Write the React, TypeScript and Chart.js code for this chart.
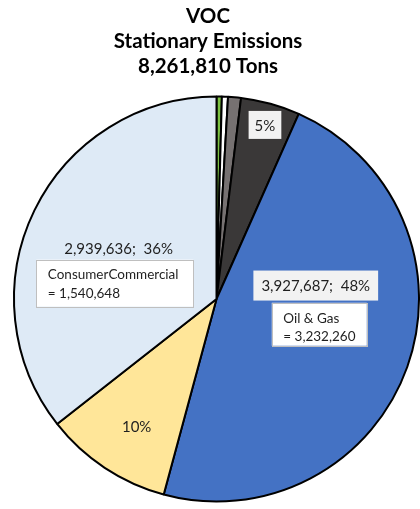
import React, { useEffect, useRef } from "react";
import { Chart, registerables } from "chart.js";

Chart.register(...registerables);

const titleLines = ["VOC", "Stationary Emissions", "8,261,810 Tons"];
const categories = ["Green", "White", "Gray", "Dark Gray", "Oil & Gas", "Yellow", "ConsumerCommercial"];
const values = [35000, 40000, 85000, 390000, 3927687, 844487, 2939636];
const sliceColors = ["#7CC242", "#FFFFFF", "#767171", "#3A3838", "#4472C4", "#FFE699", "#DEEAF6"];
const valueLabels = ["", "", "", "5%", "3,927,687;  48%", "10%", "2,939,636;  36%"];
const noteLabels: (string[] | null)[] = [null, null, null, null, ["Oil & Gas", "= 3,232,260"], null, ["ConsumerCommercial", "= 1,540,648"]];

// label placement (degrees clockwise from top, fraction of radius), box styles
const labelPlace: Record<number, { ang: number; r: number; bg: string | null }> = {
  3: { ang: 15.6, r: 0.89, bg: "#F2F2F2" },
  4: { ang: 82.0, r: 0.495, bg: "#F2F2F2" },
  5: { ang: 212.2, r: 0.74, bg: null },
  6: { ang: 297.5, r: 0.545, bg: null },
};
const notePlace: Record<number, { dx: number; dy: number; w: number; h: number }> = {
  4: { dx: -44, dy: 17.7, w: 95, h: 43 },
  6: { dx: -82.3, dy: 11.6, w: 157, h: 47 },
};

const FONT = "Lato, 'Open Sans', sans-serif";

const labelPlugin = {
  id: "customLabels",
  afterDraw(chart: any) {
    const ctx = chart.ctx as CanvasRenderingContext2D;
    const meta = chart.getDatasetMeta(0);
    const arc0 = meta.data[0];
    const cx = arc0.x;
    const cy = arc0.y;
    const R = arc0.outerRadius;
    ctx.save();
    // title
    ctx.fillStyle = "#000";
    ctx.textAlign = "center";
    ctx.textBaseline = "middle";
    ctx.font = `bold 20.5px ${FONT}`;
    titleLines.forEach((t, i) => ctx.fillText(t, 208, 16 + i * 25));

    Object.keys(labelPlace).forEach((k) => {
      const i = Number(k);
      const p = labelPlace[i];
      const th = (p.ang * Math.PI) / 180;
      const x = cx + p.r * R * Math.sin(th);
      const y = cy - p.r * R * Math.cos(th);
      ctx.font = `15px ${FONT}`;
      const txt = valueLabels[i];
      const w = ctx.measureText(txt).width;
      if (p.bg) {
        ctx.fillStyle = p.bg;
        const padX = i === 3 ? 6 : 8;
        ctx.fillRect(x - w / 2 - padX, y - 14.5, w + padX * 2, i === 3 ? 28 : 30);
      }
      ctx.fillStyle = "#1F1F1F";
      ctx.textAlign = "center";
      ctx.textBaseline = "middle";
      ctx.fillText(txt, x, y + 1);
      const note = noteLabels[i];
      const np = notePlace[i];
      if (note && np) {
        const bx = x + np.dx;
        const by = y + np.dy;
        ctx.fillStyle = "#FFFFFF";
        ctx.fillRect(bx, by, np.w, np.h);
        ctx.strokeStyle = "#BFBFBF";
        ctx.lineWidth = 1;
        ctx.strokeRect(Math.round(bx) + 0.5, Math.round(by) + 0.5, np.w, np.h);
        ctx.fillStyle = "#1F1F1F";
        ctx.textAlign = "left";
        ctx.font = `13.5px ${FONT}`;
        note.forEach((line, j) => ctx.fillText(line, bx + 11.5, by + 15.5 + j * 18.5));
      }
    });
    ctx.restore();
  },
};

export default function App() {
  const ref = useRef<HTMLCanvasElement>(null);
  useEffect(() => {
    if (!ref.current) return;
    const chart = new Chart(ref.current, {
      type: "pie",
      data: {
        labels: categories,
        datasets: [
          {
            data: values,
            backgroundColor: sliceColors,
            borderColor: "#000000",
            borderWidth: 2,
          },
        ],
      },
      options: {
        responsive: false,
        animation: false,
        layout: { padding: { left: 13, right: 0, top: 95, bottom: 6 } },
        plugins: {
          legend: { display: false },
          tooltip: { enabled: false },
          title: { display: false },
        },
      },
      plugins: [labelPlugin],
    });
    return () => chart.destroy();
  }, []);
  return (
    <div style={{ position: "absolute", left: 0, top: 0, width: 420, height: 509, background: "#fff" }}>
      <canvas ref={ref} width={420} height={509} />
    </div>
  );
}
